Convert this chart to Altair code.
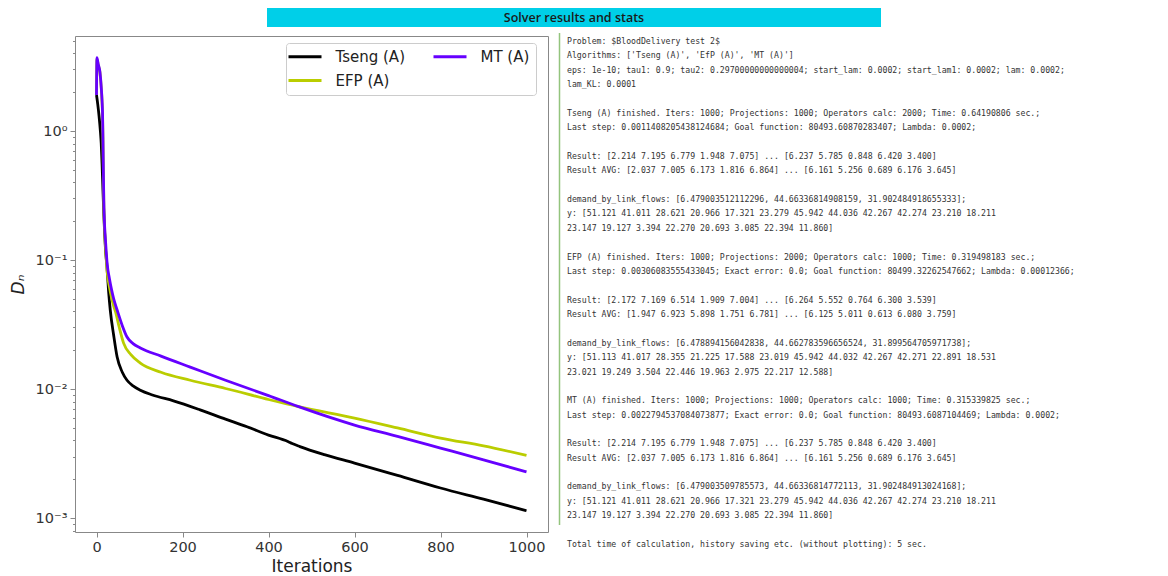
import math
import altair as alt
import pandas as pd

# ---------------- data ----------------
HEADER = "Solver results and stats"

TSENG_IT = [0, 3, 6, 9, 11, 13, 15, 17, 19, 21, 24, 28, 32, 40, 48, 60, 71, 85, 102, 130,
            179, 241, 300, 350, 400, 445, 455, 473, 530, 600, 700, 800, 900, 1000]
TSENG_D = [1.9, 1.6, 1.3, 1.0, 0.8, 0.55, 0.35, 0.23, 0.16, 0.12, 0.092, 0.058, 0.041, 0.026,
           0.0177, 0.0135, 0.0117, 0.0106, 0.0098, 0.0090, 0.0081, 0.0069, 0.00585, 0.0051,
           0.0044, 0.00392, 0.00378, 0.00358, 0.0031, 0.00267, 0.00214, 0.00171, 0.0014, 0.00114]

EFP_IT = [0, 1, 4, 8, 11, 13, 14, 15, 16, 17, 19, 21, 25, 30, 35, 40, 44, 53, 63, 80, 102,
          150, 218, 300, 400, 470, 600, 700, 800, 900, 1000]
EFP_D = [1.9, 3.6, 3.25, 2.85, 2.15, 1.65, 1.35, 0.85, 0.48, 0.27, 0.17, 0.125, 0.08, 0.062,
         0.051, 0.044, 0.040, 0.030, 0.0227, 0.0185, 0.0159, 0.0135, 0.0117, 0.0101, 0.0083,
         0.0073, 0.00596, 0.0050, 0.00417, 0.00363, 0.00306]

MT_IT = [0, 1, 4, 8, 11, 13, 14, 15, 16, 17, 19, 21, 25, 30, 35, 40, 48, 60, 71, 85, 102,
         150, 218, 300, 400, 470, 600, 700, 800, 900, 1000]
MT_D = [1.9, 3.7, 3.3, 2.87, 2.2, 1.7, 1.4, 0.9, 0.5, 0.29, 0.18, 0.14, 0.092, 0.072, 0.059,
        0.05, 0.041, 0.031, 0.0253, 0.0225, 0.0208, 0.0180, 0.0148, 0.0117, 0.0089, 0.0073,
        0.00526, 0.0043, 0.00349, 0.00283, 0.00228]

SERIES = [("Tseng (A)", TSENG_IT, TSENG_D), ("EFP (A)", EFP_IT, EFP_D), ("MT (A)", MT_IT, MT_D)]
LEGEND_ORDER = ["Tseng (A)", "EFP (A)", "MT (A)"]
COLORS = {"Tseng (A)": "#000000", "MT (A)": "#6600ff", "EFP (A)": "#bacd00"}

X_DOMAIN = [-50, 1050]
Y_DOMAIN = [7.8e-4, 5.45]
X_TICKS = [0, 200, 400, 600, 800, 1000]
Y_TICKS = [1, 0.1, 0.01, 0.001]
Y_TICK_LABELS = ["10⁰", "10⁻¹", "10⁻²", "10⁻³"]
Y_MINOR = [8e-4, 9e-4,
           2e-3, 3e-3, 4e-3, 5e-3, 6e-3, 7e-3, 8e-3, 9e-3,
           2e-2, 3e-2, 4e-2, 5e-2, 6e-2, 7e-2, 8e-2, 9e-2,
           2e-1, 3e-1, 4e-1, 5e-1, 6e-1, 7e-1, 8e-1, 9e-1,
           2, 3, 4, 5]

STATS_LINES = [
    "Problem: $BloodDelivery test 2$",
    "Algorithms: ['Tseng (A)', 'EfP (A)', 'MT (A)']",
    "eps: 1e-10; tau1: 0.9; tau2: 0.29700000000000004; start_lam: 0.0002; start_lam1: 0.0002; lam: 0.0002;",
    "lam_KL: 0.0001",
    "",
    "Tseng (A) finished. Iters: 1000; Projections: 1000; Operators calc: 2000; Time: 0.64190806 sec.;",
    "Last step: 0.0011408205438124684; Goal function: 80493.60870283407; Lambda: 0.0002;",
    "",
    "Result: [2.214 7.195 6.779 1.948 7.075] ... [6.237 5.785 0.848 6.420 3.400]",
    "Result AVG: [2.037 7.005 6.173 1.816 6.864] ... [6.161 5.256 0.689 6.176 3.645]",
    "",
    "demand_by_link_flows: [6.479003512112296, 44.66336814908159, 31.902484918655333];",
    "y: [51.121 41.011 28.621 20.966 17.321 23.279 45.942 44.036 42.267 42.274 23.210 18.211",
    "23.147 19.127  3.394 22.270 20.693 3.085 22.394 11.860]",
    "",
    "EFP (A) finished. Iters: 1000; Projections: 2000; Operators calc: 1000; Time: 0.319498183 sec.;",
    "Last step: 0.00306083555433045; Exact error: 0.0; Goal function: 80499.32262547662; Lambda: 0.00012366;",
    "",
    "Result: [2.172 7.169 6.514 1.909 7.004] ... [6.264 5.552 0.764 6.300 3.539]",
    "Result AVG: [1.947 6.923 5.898 1.751 6.781] ... [6.125 5.011 0.613 6.080 3.759]",
    "",
    "demand_by_link_flows: [6.478894156042838, 44.662783596656524, 31.899564705971738];",
    "y: [51.113 41.017 28.355 21.225 17.588 23.019 45.942 44.032 42.267 42.271 22.891 18.531",
    "23.021 19.249  3.504 22.446 19.963 2.975 22.217 12.588]",
    "",
    "MT (A) finished. Iters: 1000; Projections: 1000; Operators calc: 1000; Time: 0.315339825 sec.;",
    "Last step: 0.0022794537084073877; Exact error: 0.0; Goal function: 80493.6087104469; Lambda: 0.0002;",
    "",
    "Result: [2.214 7.195 6.779 1.948 7.075] ... [6.237 5.785 0.848 6.420 3.400]",
    "Result AVG: [2.037 7.005 6.173 1.816 6.864] ... [6.161 5.256 0.689 6.176 3.645]",
    "",
    "demand_by_link_flows: [6.479003509785573, 44.66336814772113, 31.902484913024168];",
    "y: [51.121 41.011 28.621 20.966 17.321 23.279 45.942 44.036 42.267 42.274 23.210 18.211",
    "23.147 19.127  3.394 22.270 20.693 3.085 22.394 11.860]",
    "",
    "Total time of calculation, history saving etc. (without plotting): 5 sec.",
]

# ---------------- build tables ----------------
rows = []
for name, its, ds in SERIES:
    for i, d in zip(its, ds):
        rows.append({"algo": name, "it": i, "D": d})
df = pd.DataFrame(rows)

stats_df = pd.DataFrame({"row": list(range(len(STATS_LINES))), "t": STATS_LINES})

label_expr = " : ".join(
    f"round(log(datum.value)/LN10) == {round(math.log10(v))} ? '{lab}'"
    for v, lab in zip(Y_TICKS, Y_TICK_LABELS)
) + " : ''"

PW, PH = 473, 496
AX_GREY = "#888888"
TXT = "#333333"
LINE_STEP = 14.37

xscale = alt.Scale(domain=X_DOMAIN, nice=False, zero=False)
yscale = alt.Scale(type="log", domain=Y_DOMAIN, nice=False)

x_axis = alt.Axis(
    values=X_TICKS, format="d", grid=False, domain=False, tickSize=5,
    tickColor=AX_GREY, labelFont="DejaVu Sans", labelFontSize=14.5, labelColor=TXT,
    labelPadding=3, labelFlush=False, labelOverlap=False,
    title="Iterations", titleFont="DejaVu Sans", titleFontSize=17,
    titleFontWeight="normal", titleColor="#222222", titleY=34, titleBaseline="middle")

lines = alt.Chart(df).mark_line(strokeWidth=2.8, interpolate="monotone").encode(
    x=alt.X("it:Q", scale=xscale, axis=x_axis),
    y=alt.Y("D:Q", scale=yscale, axis=alt.Axis(
        orient="left", values=Y_TICKS, labelExpr=label_expr, grid=False, domain=False,
        tickSize=5, tickColor=AX_GREY, labelFont="DejaVu Sans", labelFontSize=14.5,
        labelColor=TXT, labelPadding=3, labelFlush=False, labelOverlap=False,
        title="Dₙ", titleFont="DejaVu Sans", titleFontSize=17, titleFontStyle="italic",
        titleFontWeight="normal", titleColor="#222222", titleX=-57, titleY=248,
        titleAngle=270, titleBaseline="middle", titleAlign="center")),
    color=alt.Color("algo:N",
                    scale=alt.Scale(domain=LEGEND_ORDER, range=[COLORS[a] for a in LEGEND_ORDER]),
                    legend=alt.Legend(
                        title=None, orient="none", legendX=211, legendY=7, columns=2,
                        columnPadding=22, rowPadding=8, symbolType="M-3,0L3,0", symbolSize=121,
                        symbolOffset=5.5, symbolStrokeWidth=3, labelFont="DejaVu Sans",
                        labelFontSize=15, labelColor="#222222", labelOffset=23, padding=6,
                        strokeColor="#cccccc", fillColor="white", cornerRadius=3)),
)

minor = alt.Chart(df).mark_line(opacity=0).encode(
    x=alt.X("it:Q", scale=xscale, axis=x_axis),
    y=alt.Y("D:Q", scale=yscale, axis=alt.Axis(
        orient="left", values=Y_MINOR, labels=False, domain=False, grid=False,
        tickSize=2.5, tickColor=AX_GREY, title=None)),
)

one = alt.Data(values=[{"t": HEADER}])

header_bar = alt.Chart(one).mark_rect(color="#00cfe8").encode(
    x=alt.value(192), x2=alt.value(806), y=alt.value(-28), y2=alt.value(-9))

header_txt = alt.Chart(one).mark_text(
    font="Open Sans", fontSize=12.5, fontWeight=600, color="#1a1a1a",
    align="center", baseline="middle").encode(
    text="t:N", x=alt.value(499), y=alt.value(-18.5))

border = alt.Chart(one).mark_rule(color="#93c47d", strokeWidth=1.5).encode(
    x=alt.value(484.5), y=alt.value(-3), y2=alt.value(489))

n_rows = len(STATS_LINES) - 1
stats = alt.Chart(stats_df).mark_text(
    align="left", baseline="middle", font="DejaVu Sans Mono",
    fontSize=8.2, color=TXT).encode(
    text="t:N", x=alt.value(492),
    y=alt.Y("row:Q", axis=None,
            scale=alt.Scale(domain=[0, n_rows], range=[6, 6 + n_rows * LINE_STEP], nice=False, zero=False)))

chart = alt.layer(lines, minor, border, header_bar, header_txt, stats).resolve_scale(
    y="independent"
).resolve_axis(
    y="independent"
).properties(
    width=PW, height=PH,
    autosize=alt.AutoSizeParams(type="none"),
    padding={"left": 67, "top": 28, "right": 612, "bottom": 44},
    background="white",
).configure_view(stroke=AX_GREY, strokeWidth=1)

chart.save("out.html", embed_options={"renderer": "svg", "actions": False})
